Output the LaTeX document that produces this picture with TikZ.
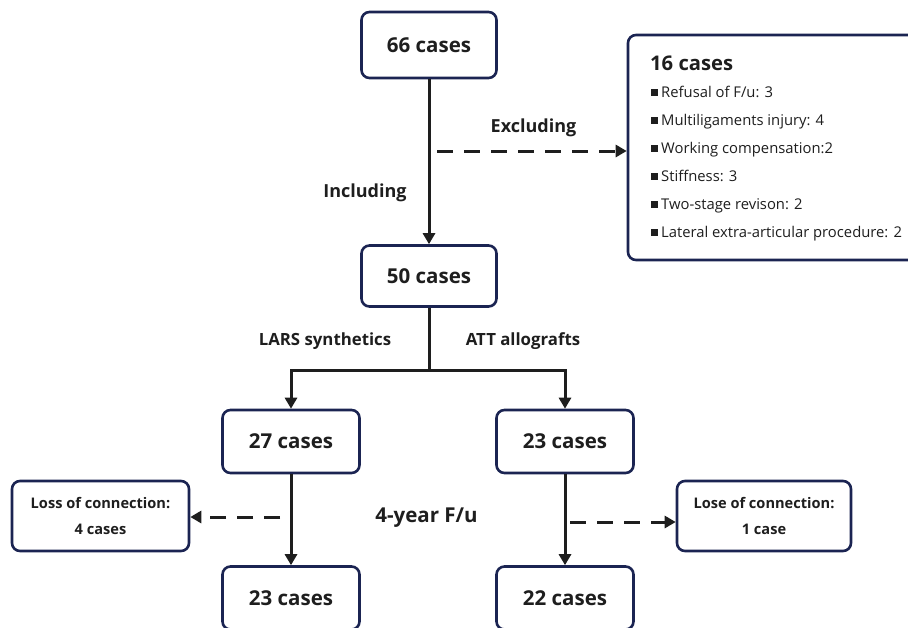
\documentclass[tikz,border=0pt]{standalone}
\usepackage{fontspec}
\setmainfont{Open Sans}
\usetikzlibrary{arrows.meta}
\definecolor{navy}{HTML}{1B2452}
\definecolor{ink}{HTML}{1E1E1E}
\tikzset{
  box/.style={draw=navy, line width=2.6pt, rounded corners=8pt, fill=white, inner sep=0pt, align=center, text=ink},
  bigtxt/.style={font=\bfseries\fontsize{20.5}{24}\selectfont},
  smalltxt/.style={font=\bfseries\fontsize{14.6}{26}\selectfont},
  conn/.style={draw=ink, line width=3pt, -{Triangle[length=11pt,width=12pt]}},
  plain/.style={draw=ink, line width=3pt},
  dconn/.style={conn, dash pattern=on 16pt off 11pt},
  lbl/.style={font=\bfseries\fontsize{18}{21}\selectfont, text=ink},
}
\newcommand{\sqb}{\raisebox{1.5pt}{\rule{7pt}{7pt}}\hspace{3pt}}
\begin{document}
\begin{tikzpicture}[x=1pt,y=-1pt]
\useasboundingbox (0,0) rectangle (908,627);
\clip (0,0) rectangle (908,627);
% boxes
\node[box, bigtxt, minimum width=135pt, minimum height=66pt] (n66) at (429,45) {66 cases};
\node[box, minimum width=297pt, minimum height=225pt] (n16) at (776.5,147.5) {};
\node[anchor=west, inner sep=0pt, font=\bfseries\fontsize{20.2}{24}\selectfont, text=ink] (n16t) at (650,63) {16 cases};
\node[anchor=north west, inner sep=0pt, align=left, font=\fontsize{14.8}{28}\selectfont, text=ink] (n16l) at (651,86.3) {\sqb Refusal of F/u: 3\\ \sqb Multiligaments injury: 4\\ \sqb Working compensation:2\\ \sqb Stiffness: 3\\ \sqb Two-stage revison: 2\\ \sqb Lateral extra-articular procedure: 2};
\node[box, bigtxt, minimum width=135pt, minimum height=61pt] (n50) at (429,276) {50 cases};
\node[box, bigtxt, minimum width=137pt, minimum height=63pt] (n27) at (291,441.5) {27 cases};
\node[box, bigtxt, minimum width=137pt, minimum height=63pt] (n23a) at (565,441.5) {23 cases};
\node[box, bigtxt, minimum width=137pt, minimum height=63pt] (n23b) at (291,598) {23 cases};
\node[box, bigtxt, minimum width=137pt, minimum height=63pt] (n22) at (565,598) {22 cases};
\node[box, smalltxt, minimum width=177pt, minimum height=70pt] (nloss) at (100.5,516) {Loss of connection:\\4 cases};
\node[box, smalltxt, minimum width=174pt, minimum height=70pt] (nlose) at (764,516) {Lose of connection:\\1 case};
% labels
\node[lbl] (linc) at (365,193) {Including};
\node[lbl] (lexc) at (533.5,128) {Excluding};
\node[lbl, font=\bfseries\fontsize{16.8}{20}\selectfont] (llars) at (325,341) {LARS synthetics};
\node[lbl, font=\bfseries\fontsize{16.8}{20}\selectfont] (latt) at (523,341) {ATT allografts};
\node[lbl, font=\bfseries\fontsize{20.5}{24}\selectfont] (lfu) at (426.5,518) {4-year F/u};
% connectors
\draw[conn] (n66) -- (n50);
\coordinate (ex) at (437,151);
\draw[dconn] (ex) -- (ex -| n16.west);
\coordinate (j) at (429,370);
\draw[plain] (n50) -- (j);
\draw[conn] (j) -| (n27);
\draw[conn] (j) -| (n23a);
\draw[conn] (n27) -- (n23b);
\draw[conn] (n23a) -- (n22);
\coordinate (dl) at (280,517);
\draw[dconn] (dl) -- (dl -| nloss.east);
\coordinate (dr) at (570,522);
\draw[dconn] (dr) -- (dr -| nlose.west);
\end{tikzpicture}
\end{document}
